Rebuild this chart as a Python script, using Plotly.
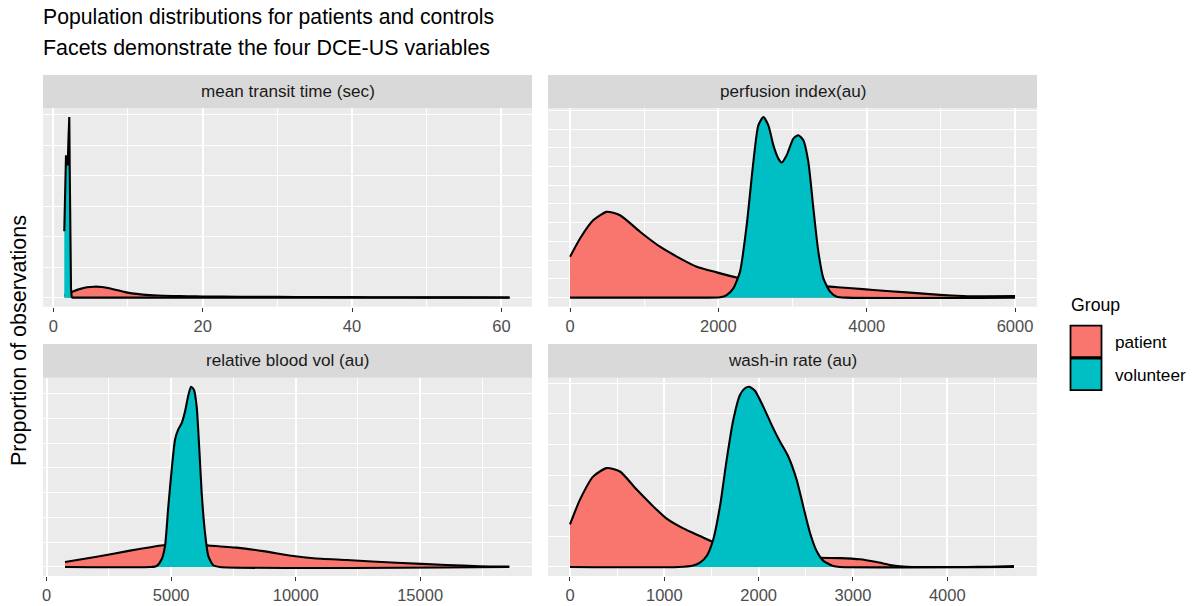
import plotly.graph_objects as go

W, H = 1195, 606

# ---------------- data ----------------
panel_titles = ["mean transit time (sec)", "perfusion index(au)",
                "relative blood vol (au)", "wash-in rate (au)"]
groups = ["patient", "volunteer"]
group_colors = ["#F8766D", "#00BFC4"]

# mean transit time (sec)
mtt_patient_x = [1.47, 2.0, 2.7, 3.5, 4.5, 5.5, 6.5, 7.5, 8.5, 9.5, 10.5, 12, 14, 16, 18, 20,
                 25, 30, 35, 40, 45, 50, 55, 61.1]
mtt_patient_y = [0.08, 0.13, 0.21, 0.28, 0.34, 0.36, 0.35, 0.31, 0.25, 0.19, 0.14, 0.10, 0.07,
                 0.055, 0.045, 0.04, 0.03, 0.025, 0.02, 0.017, 0.013, 0.01, 0.008, 0.006]
mtt_volunteer_x = [1.47, 1.59, 1.70, 1.81, 1.93, 2.03, 2.14, 2.20, 2.28, 2.37, 2.46, 2.6, 61.1]
mtt_volunteer_y = [2.18, 3.6, 4.67, 4.5, 4.34, 5.2, 5.92, 4.2, 1.8, 0.3, 0.02, 0.0, 0.0]

# perfusion index (au)
pi_patient_x = [0, 135, 315, 494, 674, 944, 1213, 1483, 1708, 1978, 2247, 2500, 2750, 3000,
                3250, 3506, 3800, 4090, 4539, 4989, 5300, 5600, 6000]
pi_patient_y = [2.18, 3.16, 4.14, 4.58, 4.40, 3.52, 2.72, 2.10, 1.65, 1.35, 1.08, 0.92, 0.80,
                0.72, 0.65, 0.59, 0.50, 0.41, 0.28, 0.15, 0.09, 0.07, 0.08]
pi_volunteer_x = [0, 1800, 2022, 2112, 2202, 2292, 2382, 2472, 2539, 2607, 2674, 2742, 2809,
                  2854, 2921, 3011, 3079, 3146, 3213, 3281, 3348, 3416, 3506, 3596, 3730, 6000]
pi_volunteer_y = [0, 0, 0.02, 0.14, 0.5, 1.39, 3.87, 7.25, 9.2, 9.64, 9.2, 8.13, 7.42,
                  7.21, 7.6, 8.49, 8.67, 8.4, 7.25, 4.76, 2.45, 1.03, 0.32, 0.05, 0, 0]

# relative blood vol (au)
rbv_patient_x = [736, 2008, 3347, 4685, 5087, 5500, 6000, 6426, 7631, 8702, 9906, 10710,
                 12048, 14056, 16064, 17403, 18581]
rbv_patient_y = [0.20, 0.41, 0.66, 0.88, 0.91, 0.92, 0.90, 0.87, 0.78, 0.64, 0.44, 0.35,
                 0.28, 0.17, 0.08, 0.03, 0.02]
rbv_volunteer_x = [736, 4150, 4418, 4618, 4752, 4886, 5020, 5154, 5288, 5422, 5556, 5690,
                   5797, 5917, 6024, 6131, 6225, 6359, 6493, 6693, 6961, 18581]
rbv_volunteer_y = [0, 0, 0.04, 0.31, 0.84, 2.45, 3.92, 5.13, 5.56, 5.80, 6.27, 6.93,
                   7.27, 7.14, 6.47, 4.73, 2.99, 1.38, 0.44, 0.07, 0, 0]

# wash-in rate (au)
wir_patient_x = [0, 106, 247, 389, 530, 707, 883, 1025, 1201, 1378, 1537, 1700, 1900, 2155,
                 2400, 2650, 2862, 3074, 3251, 3428, 3569, 3922, 4200, 4452, 4707]
wir_patient_y = [1.39, 2.2, 2.96, 3.23, 3.12, 2.53, 1.98, 1.58, 1.26, 1.01, 0.79, 0.64, 0.52,
                 0.41, 0.34, 0.30, 0.29, 0.25, 0.16, 0.05, 0.01, 0, 0, 0.01, 0.03]
wir_volunteer_x = [0, 1150, 1307, 1378, 1449, 1519, 1590, 1661, 1731, 1802, 1855, 1901, 1961,
                   2049, 2155, 2226, 2314, 2403, 2473, 2544, 2615, 2686, 2792, 2862, 4707]
wir_volunteer_y = [0, 0, 0.05, 0.14, 0.36, 0.9, 1.98, 3.5, 4.8, 5.62, 5.84, 5.89, 5.76,
                   5.24, 4.53, 4.1, 3.61, 2.85, 1.98, 1.12, 0.52, 0.2, 0.03, 0, 0]

# tick labels
mtt_ticks = [0, 20, 40, 60]
mtt_minor = [10, 30, 50]
pi_ticks = [0, 2000, 4000, 6000]
pi_minor = [1000, 3000, 5000]
rbv_ticks = [0, 5000, 10000, 15000]
rbv_minor = [2500, 7500, 12500, 17500]
wir_ticks = [0, 1000, 2000, 3000, 4000]
wir_minor = [500, 1500, 2500, 3500, 4500]

# ---------------- layout geometry (pixels) ----------------
def fx(px):
    return px / W

def fy(py):
    return 1 - py / H

panels = [
    dict(x0=43, x1=532, y0=108, y1=306.7, s0=75, xr=[-1.38, 64.1],
         px=[mtt_patient_x, mtt_volunteer_x], py=[mtt_patient_y, mtt_volunteer_y],
         ticks=mtt_ticks, minor=mtt_minor, shape=["spline", "linear"]),
    dict(x0=548, x1=1037, y0=108, y1=306.7, s0=75, xr=[-297, 6296],
         px=[pi_patient_x, pi_volunteer_x], py=[pi_patient_y, pi_volunteer_y],
         ticks=pi_ticks, minor=pi_minor, shape=["spline", "spline"]),
    dict(x0=43, x1=532, y0=377.7, y1=576, s0=344, xr=[-149, 19494],
         px=[rbv_patient_x, rbv_volunteer_x], py=[rbv_patient_y, rbv_volunteer_y],
         ticks=rbv_ticks, minor=rbv_minor, shape=["spline", "spline"]),
    dict(x0=548, x1=1037, y0=377.7, y1=576, s0=344, xr=[-233, 4951],
         px=[wir_patient_x, wir_volunteer_x], py=[wir_patient_y, wir_volunteer_y],
         ticks=wir_ticks, minor=wir_minor, shape=["spline", "spline"]),
]

FONT = "Liberation Sans, Arial, Helvetica, sans-serif"
fig = go.Figure()
layout = dict(
    width=W, height=H, margin=dict(l=0, r=0, t=0, b=0),
    paper_bgcolor="white", plot_bgcolor="#EBEBEB", showlegend=False,
    font=dict(family=FONT, color="#1A1A1A"),
)
shapes = []
annotations = []

for i, p in enumerate(panels):
    n = "" if i == 0 else str(i + 1)
    xa, ya = "x" + n, "y" + n
    for g in range(2):
        fig.add_trace(go.Scatter(
            x=p["px"][g], y=p["py"][g], xaxis=xa, yaxis=ya, mode="lines",
            line=dict(color="black", width=2.1, shape=p["shape"][g], smoothing=0.6),
            fill="tozeroy", fillcolor=group_colors[g], name=groups[g],
            hoverinfo="skip"))
    ymax = max(max(p["py"][0]), max(p["py"][1]))
    layout["xaxis" + n] = dict(
        domain=[fx(p["x0"]), fx(p["x1"])], anchor=ya, range=p["xr"],
        tickvals=p["ticks"], ticktext=[str(t) for t in p["ticks"]],
        showgrid=True, gridcolor="white", gridwidth=1.6, zeroline=False,
        ticks="outside", ticklen=4, tickwidth=1.1, tickcolor="#333333",
        tickfont=dict(size=16.5, color="#4D4D4D", family=FONT),
        showline=False,
        minor=dict(tickvals=p["minor"], showgrid=True, gridcolor="white", gridwidth=1.0),
    )
    layout["yaxis" + n] = dict(
        domain=[fy(p["y1"]), fy(p["y0"])], anchor=xa,
        range=[-0.05 * ymax, 1.05 * ymax],
        tickvals=list(range(0, 11)), showticklabels=False, ticks="",
        showgrid=True, gridcolor="white", gridwidth=1.3, zeroline=False, showline=False,
    )
    # strip
    shapes.append(dict(type="rect", xref="paper", yref="paper",
                       x0=fx(p["x0"]), x1=fx(p["x1"]), y0=fy(p["y0"]), y1=fy(p["s0"]),
                       fillcolor="#D9D9D9", line=dict(width=0), layer="below"))
    annotations.append(dict(text=panel_titles[i], xref="paper", yref="paper",
                            x=fx((p["x0"] + p["x1"]) / 2), y=fy((p["s0"] + p["y0"]) / 2),
                            xanchor="center", yanchor="middle", showarrow=False,
                            font=dict(size=17.1, color="#1A1A1A", family=FONT)))

# titles
annotations.append(dict(text="Population distributions for patients and controls",
                        xref="paper", yref="paper", x=fx(41), y=fy(16.5),
                        xanchor="left", yanchor="middle", showarrow=False,
                        font=dict(size=21.2, color="black", family=FONT)))
annotations.append(dict(text="Facets demonstrate the four DCE-US variables",
                        xref="paper", yref="paper", x=fx(41), y=fy(48),
                        xanchor="left", yanchor="middle", showarrow=False,
                        font=dict(size=21.4, color="black", family=FONT)))
annotations.append(dict(text="Proportion of observations", xref="paper", yref="paper",
                        x=fx(19), y=fy(341), xanchor="center", yanchor="middle",
                        textangle=-90, showarrow=False,
                        font=dict(size=21.5, color="black", family=FONT)))

# legend (drawn manually to mimic ggplot keys)
annotations.append(dict(text="Group", xref="paper", yref="paper", x=fx(1069), y=fy(305),
                        xanchor="left", yanchor="middle", showarrow=False,
                        font=dict(size=17.7, color="black", family=FONT)))
key_tops = [325.7, 358.7]
for g in range(2):
    t = key_tops[g]
    shapes.append(dict(type="rect", xref="paper", yref="paper",
                       x0=fx(1070.5), x1=fx(1101.5), y0=fy(t + 31.5), y1=fy(t),
                       fillcolor=group_colors[g], line=dict(color="black", width=1.8)))
    annotations.append(dict(text=groups[g], xref="paper", yref="paper",
                            x=fx(1112.5), y=fy(t + 16), xanchor="left", yanchor="middle",
                            showarrow=False,
                            font=dict(size=17.2, color="black", family=FONT)))

layout["shapes"] = shapes
layout["annotations"] = annotations
fig.update_layout(**layout)
fig.write_html("out.html", config={"displayModeBar": False},
               post_script="document.body.style.margin='0';")
